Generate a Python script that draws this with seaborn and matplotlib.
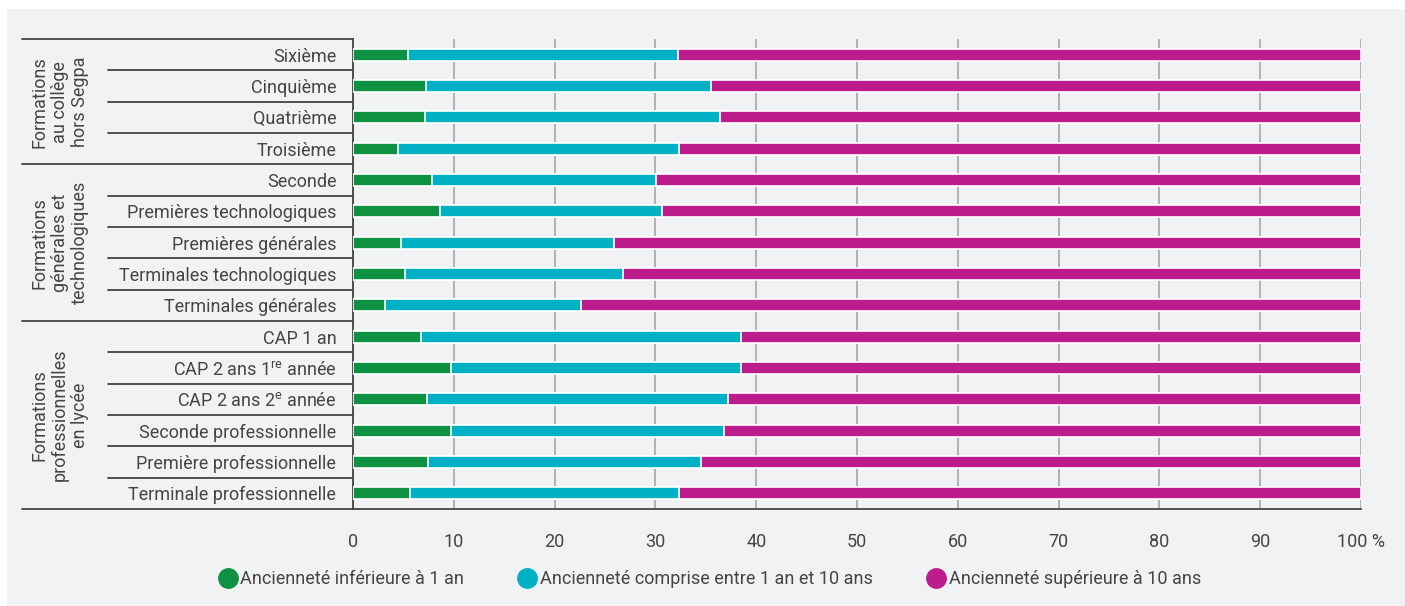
import pandas as pd
import seaborn as sns
import matplotlib.pyplot as plt
from matplotlib.patches import Rectangle
from matplotlib.lines import Line2D
from matplotlib import transforms

# Données (en %)
categories = [
    "Sixième", "Cinquième", "Quatrième", "Troisième",
    "Seconde", "Premières technologiques", "Premières générales",
    "Terminales technologiques", "Terminales générales",
    "CAP 1 an", "CAP 2 ans 1$^{\\mathrm{re}}$ année", "CAP 2 ans 2$^{\\mathrm{e}}$ année",
    "Seconde professionnelle", "Première professionnelle", "Terminale professionnelle",
]
moins_1_an = [5.5, 7.2, 7.1, 4.5, 7.8, 8.6, 4.8, 5.2, 3.2, 6.7, 9.7, 7.3, 9.7, 7.4, 5.7]
entre_1_10 = [26.7, 28.3, 29.3, 27.8, 22.3, 22.1, 21.1, 21.6, 19.4, 31.8, 28.8, 29.9, 27.1, 27.1, 26.6]
plus_10_ans = [round(100 - a - b, 1) for a, b in zip(moins_1_an, entre_1_10)]

groupes = [
    ("Formations\nau collège\nhors Segpa", 0, 3),
    ("Formations\ngénérales et\ntechnologiques", 4, 8),
    ("Formations\nprofessionnelles\nen lycée", 9, 14),
]
legende = [
    "Ancienneté inférieure à 1 an",
    "Ancienneté comprise entre 1 an et 10 ans",
    "Ancienneté supérieure à 10 ans",
]
couleurs = ["#0f9142", "#00b1c5", "#bc1c8c"]
ticks_x = [0, 10, 20, 30, 40, 50, 60, 70, 80, 90, 100]
labels_x = ["0", "10", "20", "30", "40", "50", "60", "70", "80", "90", "100 %"]

texte = "#454545"
fond = "#f1f2f4"
taille = 13

sns.set_style("white")
plt.rcParams["font.family"] = ["Roboto", "DejaVu Sans"]
plt.rcParams["mathtext.fontset"] = "custom"
plt.rcParams["mathtext.rm"] = "Roboto"
plt.rcParams["mathtext.it"] = "Roboto"

df = pd.DataFrame({
    "cat": categories,
    "c1": moins_1_an,
    "c2": [a + b for a, b in zip(moins_1_an, entre_1_10)],
    "c3": [a + b + c for a, b, c in zip(moins_1_an, entre_1_10, plus_10_ans)],
})

fig = plt.figure(figsize=(14.05, 6.06), dpi=100)
fig.patch.set_facecolor("white")
fig.patches.append(Rectangle((7 / 1405, 0), 1, 597 / 606, transform=fig.transFigure,
                             facecolor=fond, edgecolor="none", zorder=-10))
ax = fig.add_axes([353 / 1405, 97 / 606, 1008 / 1405, 470 / 606])
ax.set_facecolor(fond)

for col, c in zip(["c3", "c2", "c1"], couleurs[::-1]):
    sns.barplot(data=df, x=col, y="cat", color=c, orient="h", width=0.38,
                edgecolor="white", linewidth=1.2, saturation=1, ax=ax, zorder=3)

ax.set_xlim(0, 100)
ax.set_ylim(14.5, -0.5)
ax.set_xlabel("")
ax.set_ylabel("")
ax.set_xticks(ticks_x)
ax.set_xticklabels(labels_x)
ax.grid(axis="x", color="#a0a0a0", linewidth=1.1, zorder=0)
ax.set_axisbelow(True)
for s in ["top", "right"]:
    ax.spines[s].set_visible(False)
for s in ["left", "bottom"]:
    ax.spines[s].set_color("#444444")
    ax.spines[s].set_linewidth(1.3)
ax.tick_params(axis="x", length=10, width=1.1, color="#333333", labelsize=taille,
               labelcolor=texte, pad=7)
ax.tick_params(axis="y", length=0, labelsize=taille, labelcolor=texte, pad=12)

# séparateurs de lignes et de groupes
trans = transforms.blended_transform_factory(fig.transFigure, ax.transData)
debuts = [g[1] for g in groupes]
for i in range(len(categories) + 1):
    y = i - 0.5
    x0 = 22 / 1405 if (i in debuts or i == len(categories)) else 108 / 1405
    ax.add_line(Line2D([x0, 353 / 1405], [y, y], transform=trans, color="#444444",
                       linewidth=1.3, clip_on=False))

for nom, a, b in groupes:
    ax.text(60 / 1405, (a + b) / 2, nom, transform=trans, rotation=90, ha="center",
            va="center", fontsize=taille, color=texte, linespacing=1.15,
            multialignment="center")

handles = [Line2D([], [], marker="o", linestyle="none", markersize=14,
                  markerfacecolor=c, markeredgecolor=c) for c in couleurs]
fig.legend(handles, legende, loc="center", bbox_to_anchor=(709 / 1405, 1 - 579 / 606),
           ncol=3, frameon=False, fontsize=taille, labelcolor=texte, handletextpad=0.1,
           columnspacing=2.9, handlelength=1.2)

fig.savefig("out.png", dpi=100, facecolor=fig.get_facecolor())
